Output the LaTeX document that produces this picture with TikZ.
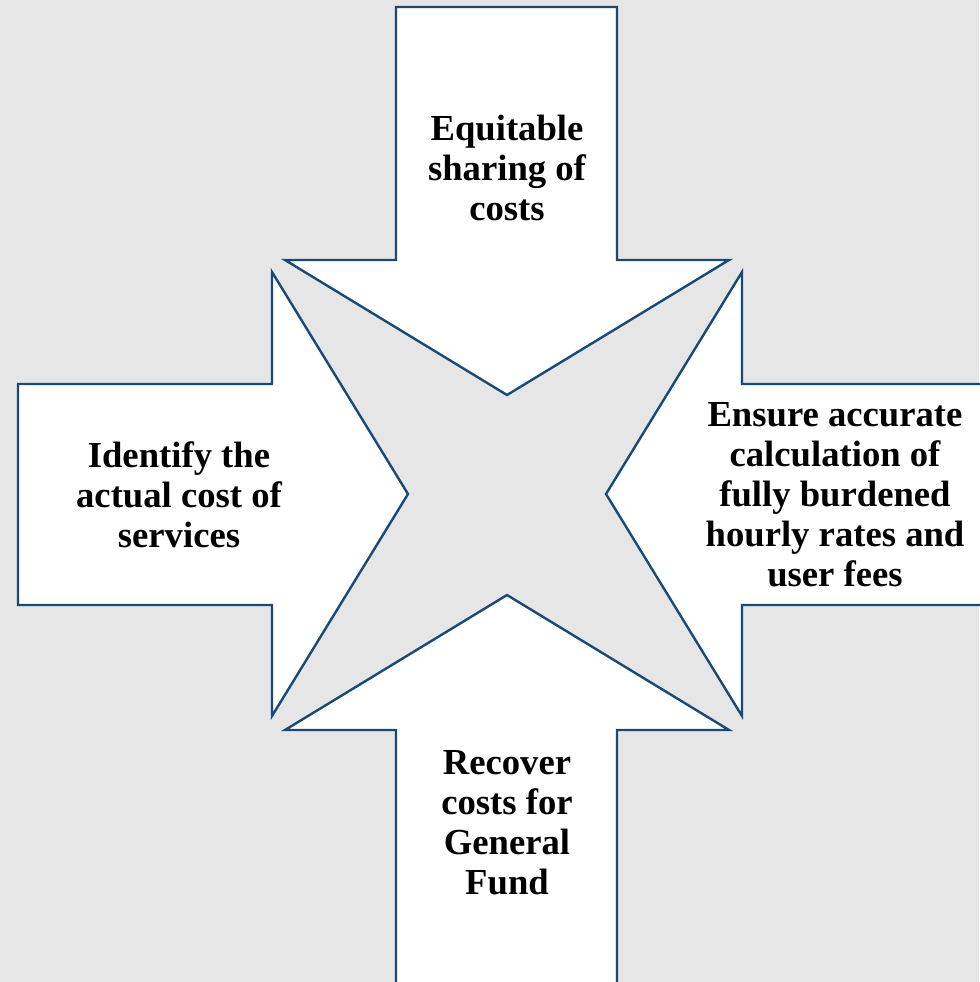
\documentclass[tikz,border=0pt]{standalone}
\usepackage{fontspec}
\setmainfont{Liberation Serif}
\usepackage{tikz}
\definecolor{goalblue}{RGB}{24,74,120}
\definecolor{backgray}{RGB}{230,230,230}
\tikzstyle{goal} = [draw=goalblue,fill=white,line width=1.8pt,line join=miter]
\tikzstyle{label} = [align=center,font=\bfseries\fontsize{27.5}{30}\selectfont,inner sep=0pt]

\begin{document}
\begin{tikzpicture}[x=0.75pt,y=-0.75pt]
          \fill[backgray] (0,0) rectangle (979,982);
          \useasboundingbox (0,0) rectangle (979,982);

          % four arrows pointing to the centre
          \draw[goal] (396,7) -- (617,7) -- (617,260) -- (729,260) -- (507,395) -- (285,260) -- (396,260) -- cycle;
          \draw[goal] (18,384) -- (272,384) -- (272,272) -- (408,494) -- (272,716) -- (272,605) -- (18,605) -- cycle;
          \draw[goal] (995,384) -- (742,384) -- (742,272) -- (606,494) -- (742,716) -- (742,605) -- (995,605) -- cycle;
          \draw[goal] (396,995) -- (396,730) -- (285,730) -- (507,595) -- (729,730) -- (617,730) -- (617,995) -- cycle;

          \node[label] (equitable) at (507,168) {Equitable\\sharing of\\costs};
          \node[label] (identify) at (179,495) {Identify the\\actual cost of\\services};
          \node[label] (ensure) at (835,495) {Ensure accurate\\calculation of\\fully burdened\\hourly rates and\\user fees};
          \node[label] (recover) at (507,823) {Recover\\costs for\\General\\Fund};
        \end{tikzpicture}
\end{document}
